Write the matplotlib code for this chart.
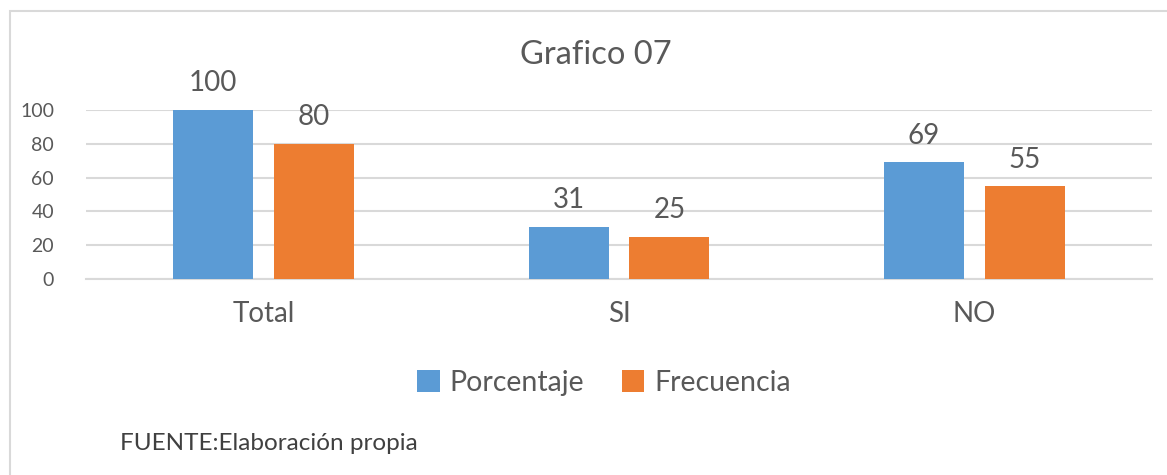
import matplotlib
matplotlib.use("Agg")
import matplotlib.pyplot as plt
import numpy as np
from matplotlib.patches import Rectangle

categories = ["Total", "SI", "NO"]
porcentaje = [100, 31, 69]
frecuencia = [80, 25, 55]
series_names = ["Porcentaje", "Frecuencia"]
y_ticks = [0, 20, 40, 60, 80, 100]

blue = "#5B9BD5"
orange = "#ED7D31"
text_color = "#595959"
grid_color = "#D9D9D9"

plt.rcParams["font.family"] = ["Lato", "DejaVu Sans"]

fig = plt.figure(figsize=(11.67, 4.75), dpi=100)
ax = fig.add_axes([86 / 1167, 1 - 279 / 475, (1152 - 86) / 1167, (279 - 110) / 475])

# outer chart border (runs off the right and bottom edges)
fig.patches.append(Rectangle((10 / 1167, -0.05), 1.2, 1 - 11 / 475 + 0.05,
                             transform=fig.transFigure, fill=False,
                             edgecolor=grid_color, linewidth=1.5))

x = np.arange(len(categories))
w = 0.225
off = 0.142
b1 = ax.bar(x - off, porcentaje, w, color=blue, zorder=3)
b2 = ax.bar(x + off, frecuencia, w, color=orange, zorder=3)

for bars in (b1, b2):
    for bar in bars:
        h = bar.get_height()
        ax.text(bar.get_x() + bar.get_width() / 2, h + 8, f"{h:g}",
                ha="center", va="bottom", fontsize=20, color=text_color,
                clip_on=False)

ax.set_xlim(-0.5, 2.5)
ax.set_ylim(0, 100)
ax.set_yticks(y_ticks)
ax.set_xticks(x)
ax.set_xticklabels(categories)
ax.tick_params(axis="y", length=0, pad=23, labelsize=14, labelcolor=text_color)
ax.tick_params(axis="x", length=0, pad=16, labelsize=20, labelcolor=text_color)
ax.grid(axis="y", color=grid_color, linewidth=1.5, zorder=0)
for s in ["top", "right", "left"]:
    ax.spines[s].set_visible(False)
ax.spines["bottom"].set_color(grid_color)
ax.spines["bottom"].set_linewidth(1.5)

fig.text(596 / 1167, 1 - 55 / 475, "Grafico 07", ha="center", va="center",
         fontsize=23.5, color=text_color)

leg = fig.legend([b1, b2], series_names, loc="center", ncol=2,
                 bbox_to_anchor=(604 / 1167, 1 - 383 / 475), frameon=False,
                 fontsize=20.5, handlelength=0.8, handleheight=0.8,
                 handletextpad=0.35, columnspacing=1.3)
for t in leg.get_texts():
    t.set_color(text_color)

fig.text(120 / 1167, 1 - 443 / 475, "FUENTE:Elaboración propia", ha="left",
         va="center", fontsize=17.5, color="#404040")

fig.savefig("out.png", dpi=100)
